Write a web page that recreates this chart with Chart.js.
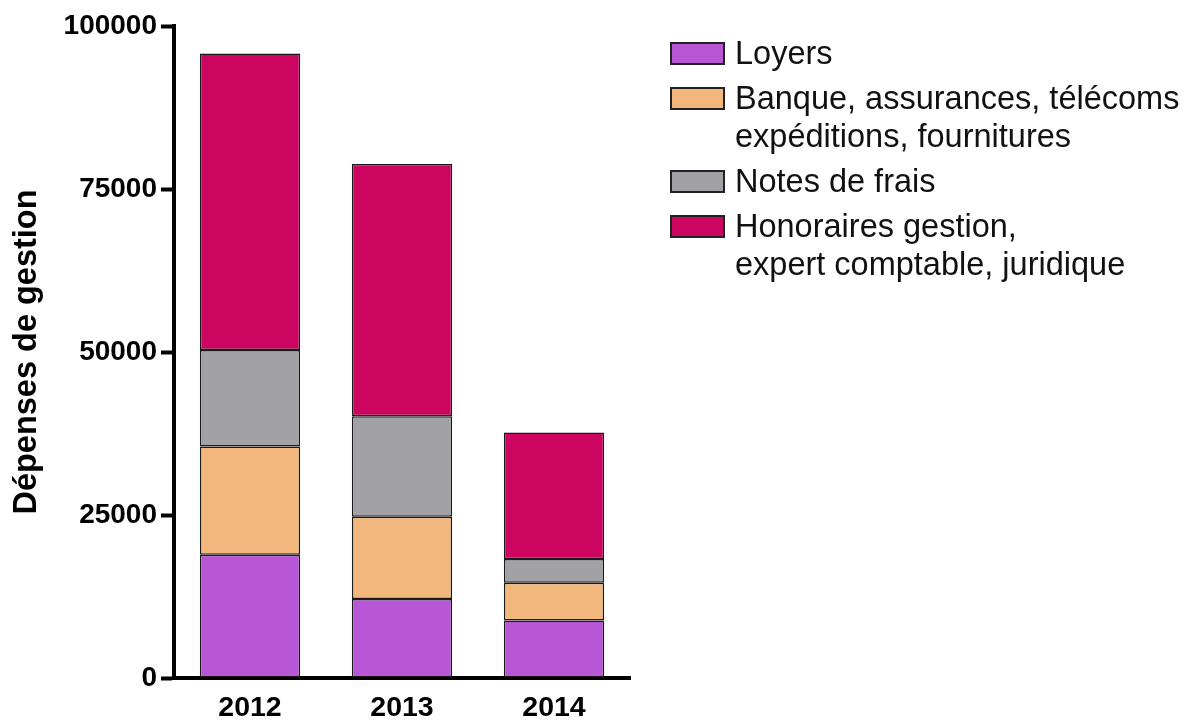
<!DOCTYPE html>
<html>
<head>
  <title>Dépenses de gestion</title>
  <script src="https://cdn.jsdelivr.net/npm/chart.js"></script>
  <style>
    body { margin: 0; background: #fff; }
    #wrap { position: relative; width: 1188px; height: 720px; }
    #myChart { position: absolute; left: 0; top: 0; }
    #legend { position: absolute; left: 670px; top: 34px; font-family: "Liberation Sans", Arial, sans-serif; font-size: 32.5px; color: #111; }
    .item { display: flex; align-items: flex-start; margin-bottom: 7px; }
    .box { width: 51px; height: 19px; border: 2px solid #222; margin-top: 8px; margin-right: 10px; flex: none; }
    .txt { line-height: 38px; }
  </style>
</head>
<body>
<div id="wrap">
  <canvas id="myChart" width="1188" height="720"></canvas>
  <div id="legend"></div>
</div>
<script>
  const years = ['2012', '2013', '2014'];
  const seriesNames = [
    ['Loyers'],
    ['Banque, assurances, télécoms', 'expéditions, fournitures'],
    ['Notes de frais'],
    ['Honoraires gestion,', 'expert comptable, juridique']
  ];
  const seriesColors = ['#b856d6', '#f2b77c', '#a2a1a6', '#cc0660'];
  const loyers = [18900, 12100, 8800];
  const banque = [16600, 12650, 5800];
  const notes = [14800, 15400, 3650];
  const honoraires = [45500, 38700, 19400];
  const yTicks = [0, 25000, 50000, 75000, 100000];

  const values = [loyers, banque, notes, honoraires];
  const font = '"Liberation Sans", Arial, sans-serif';

  const ctx = document.getElementById('myChart').getContext('2d');
  const chart = new Chart(ctx, {
    type: 'bar',
    data: {
      labels: years,
      datasets: values.map((v, i) => ({
        label: seriesNames[i].join(' '),
        data: v,
        backgroundColor: seriesColors[i],
        borderColor: '#1a1a1a',
        borderWidth: 1.5,
        borderSkipped: false,
        barPercentage: 0.66,
        categoryPercentage: 1
      }))
    },
    options: {
      responsive: false,
      animation: false,
      layout: { padding: { left: 0, top: 26, right: 558, bottom: 0 } },
      plugins: { legend: { display: false }, tooltip: { enabled: false } },
      scales: {
        x: {
          stacked: true,
          grid: { display: false, drawTicks: false },
          border: { display: true, color: '#000', width: 4 },
          ticks: { color: '#000', padding: 13, font: { family: font, size: 28.5, weight: 'bold' } },
          afterFit: s => { s.height = 42; }
        },
        y: {
          stacked: true,
          min: 0,
          max: 100000,
          afterBuildTicks: s => { s.ticks = yTicks.map(v => ({ value: v })); },
          grid: { drawOnChartArea: false, drawTicks: true, tickLength: 13, tickWidth: 4, tickColor: '#000' },
          border: { display: true, color: '#000', width: 4 },
          ticks: { color: '#000', padding: 4, font: { family: font, size: 28, weight: 'bold' }, callback: v => String(v) },
          title: {
            display: true,
            text: 'Dépenses de gestion',
            color: '#000',
            font: { family: font, size: 32.5, weight: 'bold' },
            padding: { top: 8, bottom: 0 }
          },
          afterFit: s => { s.width = 174; }
        }
      }
    }
  });

  const legend = document.getElementById('legend');
  seriesNames.forEach((lines, i) => {
    const item = document.createElement('div');
    item.className = 'item';
    const box = document.createElement('div');
    box.className = 'box';
    box.style.background = seriesColors[i];
    const txt = document.createElement('div');
    txt.className = 'txt';
    txt.innerHTML = lines.join('<br>');
    item.appendChild(box);
    item.appendChild(txt);
    legend.appendChild(item);
  });
</script>
</body>
</html>
